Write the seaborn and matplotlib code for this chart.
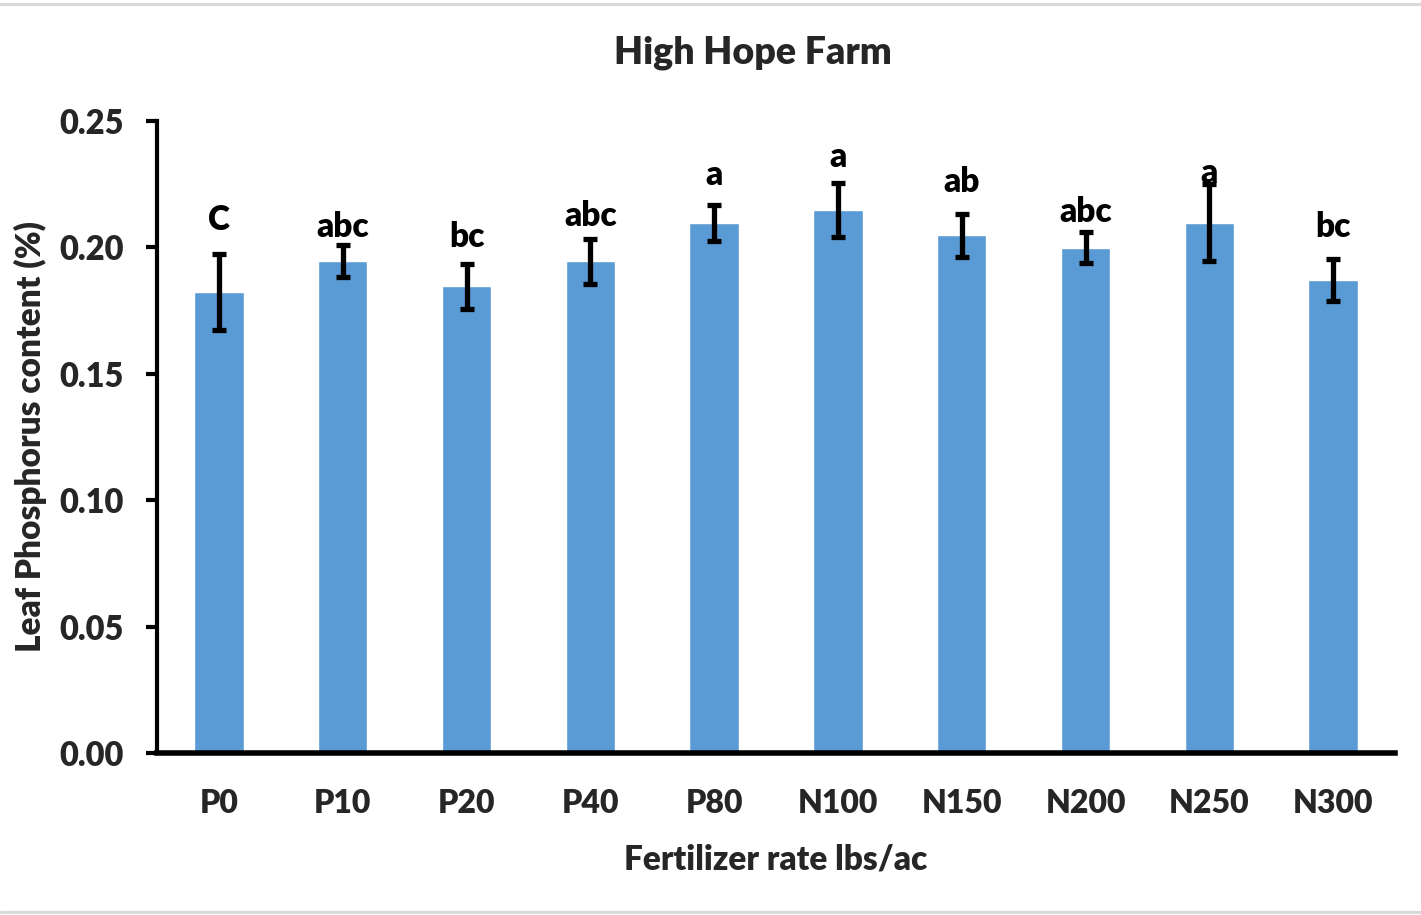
import matplotlib
matplotlib.use("Agg")
import matplotlib.pyplot as plt
from matplotlib.lines import Line2D
import seaborn as sns
import pandas as pd

categories = ["P0", "P10", "P20", "P40", "P80", "N100", "N150", "N200", "N250", "N300"]
phosphorus = [0.1824, 0.1946, 0.1847, 0.1946, 0.2097, 0.2148, 0.2049, 0.1998, 0.2097, 0.1871]
std_err = [0.0150, 0.0065, 0.0089, 0.0089, 0.0071, 0.0107, 0.0085, 0.0061, 0.0152, 0.0085]
letters = ["C", "abc", "bc", "abc", "a", "a", "ab", "abc", "a", "bc"]
letter_heights = [0.2069, 0.2041, 0.2002, 0.2085, 0.2247, 0.2318, 0.2219, 0.2100, 0.2255, 0.2041]
y_ticks = [0.00, 0.05, 0.10, 0.15, 0.20, 0.25]

df = pd.DataFrame({"rate": categories, "p": phosphorus})

sns.set_theme(style="white")
plt.rcParams["font.family"] = ["Lato", "DejaVu Sans"]
W = "heavy"
plt.rcParams["font.weight"] = W

fig = plt.figure(figsize=(14.21, 9.15), dpi=100)
ax = fig.add_axes([157 / 1421, 1 - 753 / 915, (1395 - 157) / 1421, (753 - 121) / 915])

sns.barplot(data=df, x="rate", y="p", color="#5B9BD5", saturation=1, width=0.4, ax=ax)
ax.errorbar(range(len(categories)), phosphorus, yerr=std_err, fmt="none",
            ecolor="black", elinewidth=3.8, capsize=5, capthick=3.8, zorder=5)

for i, (lab, h) in enumerate(zip(letters, letter_heights)):
    ax.text(i, h, lab, ha="center", va="baseline", fontsize=24, fontweight=W, color="black")

ax.set_xlim(-0.5, 9.5)
ax.set_ylim(0, 0.25)
ax.set_yticks(y_ticks)
ax.set_yticklabels([f"{t:.2f}" for t in y_ticks])
ax.tick_params(axis="y", which="both", left=True, length=8, width=3, direction="out",
               labelsize=23.5, pad=16, color="black")
ax.tick_params(axis="x", bottom=False, labelsize=23, pad=20)
for lbl in ax.get_xticklabels() + ax.get_yticklabels():
    lbl.set_fontweight(W)

for s in ["top", "right"]:
    ax.spines[s].set_visible(False)
ax.spines["left"].set_linewidth(3)
ax.spines["left"].set_color("black")
ax.spines["bottom"].set_linewidth(4)
ax.spines["bottom"].set_color("black")

ax.set_xlabel("Fertilizer rate lbs/ac", fontsize=24, fontweight=W, labelpad=18)
ax.set_ylabel("Leaf Phosphorus content (%)", fontsize=24, fontweight=W, labelpad=9)

fig.text(753 / 1421, 1 - 53 / 915, "High Hope Farm", ha="center", va="center",
         fontsize=27, fontweight=W)

fig.add_artist(Line2D([0, 1], [1 - 4 / 915, 1 - 4 / 915], color="#d9d9d9", lw=2.2, transform=fig.transFigure))
fig.add_artist(Line2D([0, 1], [1 - 912 / 915, 1 - 912 / 915], color="#d9d9d9", lw=2.2, transform=fig.transFigure))

fig.savefig("out.png", dpi=100)
